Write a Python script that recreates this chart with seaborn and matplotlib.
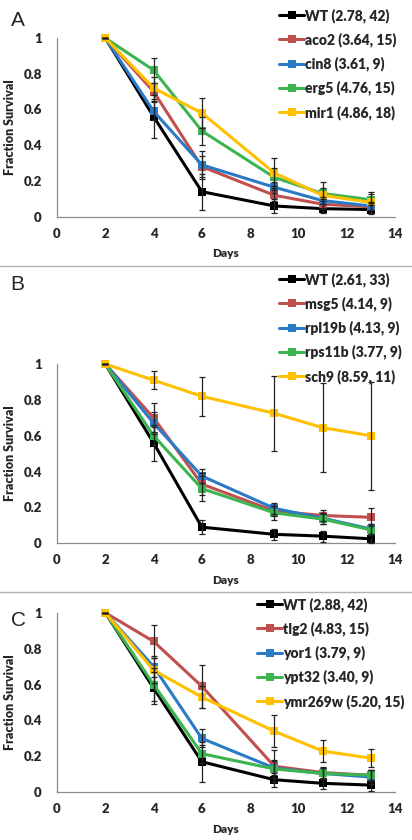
import numpy as np
import pandas as pd
import matplotlib
matplotlib.use("Agg")
import matplotlib.pyplot as plt
from matplotlib.lines import Line2D
import seaborn as sns

days = [2, 4, 6, 9, 11, 13]

# Panel A
a_labels = ["WT (2.78, 42)", "aco2 (3.64, 15)", "cin8 (3.61, 9)", "erg5 (4.76, 15)", "mir1 (4.86, 18)"]
a_wt = [1, 0.56, 0.14, 0.06, 0.045, 0.04]
a_aco2 = [1, 0.70, 0.28, 0.12, 0.07, 0.055]
a_cin8 = [1, 0.59, 0.29, 0.165, 0.09, 0.06]
a_erg5 = [1, 0.82, 0.48, 0.22, 0.13, 0.095]
a_mir1 = [1, 0.72, 0.58, 0.245, 0.12, 0.08]
a_wt_err = [0, 0.12, 0.10, 0.04, 0.025, 0.025]
a_aco2_err = [0, 0.05, 0.06, 0.03, 0.02, 0.02]
a_cin8_err = [0, 0.05, 0.08, 0.03, 0.02, 0.02]
a_erg5_err = [0, 0.07, 0.08, 0.05, 0.03, 0.03]
a_mir1_err = [0, 0.06, 0.085, 0.085, 0.075, 0.06]

# Panel B
b_labels = ["WT (2.61, 33)", "msg5 (4.14, 9)", "rpl19b (4.13, 9)", "rps11b (3.77, 9)", "sch9 (8.59, 11)"]
b_wt = [1, 0.56, 0.09, 0.05, 0.04, 0.025]
b_msg5 = [1, 0.70, 0.33, 0.18, 0.155, 0.145]
b_rpl19b = [1, 0.67, 0.375, 0.195, 0.14, 0.08]
b_rps11b = [1, 0.60, 0.305, 0.17, 0.135, 0.075]
b_sch9 = [1, 0.91, 0.82, 0.725, 0.645, 0.60]
b_wt_err = [0, 0.10, 0.04, 0.03, 0.03, 0.025]
b_msg5_err = [0, 0.08, 0.06, 0.03, 0.03, 0.05]
b_rpl19b_err = [0, 0.06, 0.04, 0.03, 0.03, 0.03]
b_rps11b_err = [0, 0.05, 0.07, 0.04, 0.03, 0.03]
b_sch9_err = [0, 0.05, 0.11, 0.21, 0.25, 0.30]

# Panel C
c_labels = ["WT (2.88, 42)", "tlg2 (4.83, 15)", "yor1 (3.79, 9)", "ypt32 (3.40, 9)", "ymr269w (5.20, 15)"]
c_wt = [1, 0.58, 0.17, 0.07, 0.05, 0.04]
c_tlg2 = [1, 0.84, 0.59, 0.145, 0.11, 0.095]
c_yor1 = [1, 0.70, 0.30, 0.135, 0.105, 0.085]
c_ypt32 = [1, 0.60, 0.215, 0.13, 0.105, 0.095]
c_ymr269w = [1, 0.68, 0.53, 0.34, 0.23, 0.19]
c_wt_err = [0, 0.09, 0.11, 0.04, 0.03, 0.03]
c_tlg2_err = [0, 0.09, 0.12, 0.09, 0.03, 0.03]
c_yor1_err = [0, 0.06, 0.05, 0.04, 0.03, 0.04]
c_ypt32_err = [0, 0.09, 0.05, 0.05, 0.03, 0.03]
c_ymr269w_err = [0, 0.07, 0.06, 0.09, 0.06, 0.05]

colors = ["#000000", "#c0504d", "#2a7ac6", "#3cb550", "#ffc000"]

panels = [
    ("A", a_labels, [a_wt, a_aco2, a_cin8, a_erg5, a_mir1],
     [a_wt_err, a_aco2_err, a_cin8_err, a_erg5_err, a_mir1_err]),
    ("B", b_labels, [b_wt, b_msg5, b_rpl19b, b_rps11b, b_sch9],
     [b_wt_err, b_msg5_err, b_rpl19b_err, b_rps11b_err, b_sch9_err]),
    ("C", c_labels, [c_wt, c_tlg2, c_yor1, c_ypt32, c_ymr269w],
     [c_wt_err, c_tlg2_err, c_yor1_err, c_ypt32_err, c_ymr269w_err]),
]

sns.set_style("white")
plt.rcParams['font.family'] = ['Lato', 'DejaVu Sans']

W, H = 412, 840
fig = plt.figure(figsize=(W / 100, H / 100), dpi=100)
fig.patch.set_facecolor("white")

boxes = [(38, 216.7), (364, 543.3), (612.7, 792.3)]
legend_pos = [(279, 8), (279, 272), (257, 597)]
label_pos = [(11, 20), (10, 284), (11, 621)]
x0, x1 = 57, 395
gray = "#8c8c8c"

for (letter, labels, series, errs), (ytop, ybot), (lx, ly), (px, py) in zip(panels, boxes, legend_pos, label_pos):
    ax = fig.add_axes([x0 / W, (H - ybot) / H, (x1 - x0) / W, (ybot - ytop) / H])
    rows = []
    for lab, vals in zip(labels, series):
        for d, v in zip(days, vals):
            rows.append({"day": d, "frac": v, "strain": lab})
    df = pd.DataFrame(rows)
    sns.lineplot(data=df, x="day", y="frac", hue="strain", hue_order=labels,
                 palette=colors, marker="s", markersize=5.5, markeredgewidth=0,
                 linewidth=2.2, dashes=False, legend=False, ax=ax, clip_on=False)
    handles = list(ax.get_lines())[:5]
    for vals, e in zip(series, errs):
        ax.errorbar(days, vals, yerr=e, fmt="none", ecolor="#222222",
                    elinewidth=0.9, capsize=2.5, capthick=0.9, clip_on=False, zorder=5)
    ax.set_xlim(0, 14)
    ax.set_ylim(0, 1)
    ax.set_xticks(range(0, 15, 2))
    ax.set_yticks([0, 0.2, 0.4, 0.6, 0.8, 1.0])
    ax.set_yticklabels(["0", "0.2", "0.4", "0.6", "0.8", "1"])
    ax.tick_params(axis="both", direction="out", length=4, width=0.9, color=gray,
                   labelsize=9.5)
    ax.tick_params(axis="x", pad=4)
    ax.tick_params(axis="y", pad=7)
    for t in ax.get_xticklabels() + ax.get_yticklabels():
        t.set_fontweight("heavy")
    for s in ["top", "right"]:
        ax.spines[s].set_visible(False)
    for s in ["left", "bottom"]:
        ax.spines[s].set_color(gray)
        ax.spines[s].set_linewidth(0.9)
    ax.set_xlabel("Days", fontsize=8.5, fontweight="heavy", labelpad=6)
    ax.set_ylabel("Fraction Survival", fontsize=9, fontweight="heavy", labelpad=5)
    ax.set_facecolor("none")

    fig.legend(handles, labels, loc="upper left",
               bbox_to_anchor=(lx / W, 1 - ly / H), frameon=False,
               prop={"size": 10, "weight": "heavy"}, handlelength=1.8,
               handletextpad=0.1, labelspacing=0.68, borderaxespad=0,
               borderpad=0)
    fig.text(px / W, 1 - py / H, letter, fontsize=15, ha="left", va="center",
             family=["Liberation Sans", "DejaVu Sans"])

for yy in [266, 592]:
    fig.add_artist(Line2D([0, 1], [1 - yy / H, 1 - yy / H], color="#b0b0b0",
                          linewidth=1.0, transform=fig.transFigure))

fig.savefig("out.png", dpi=100)
